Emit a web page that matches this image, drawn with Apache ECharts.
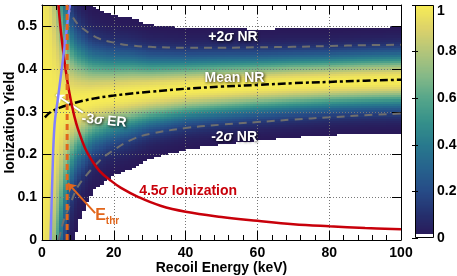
<!DOCTYPE html>
<html><head><meta charset="utf-8">
<script src="https://cdn.jsdelivr.net/npm/echarts@6/dist/echarts.min.js"></script>
<style>html,body{margin:0;padding:0;background:#fff}#c{width:457px;height:276px}</style>
</head><body><div id="c"></div>
<script>
// ---------- data ----------
const xTicks = [0, 20, 40, 60, 80, 100];
const yTicks = [0, 0.1, 0.2, 0.3, 0.4, 0.5];
const cbTicks = [0, 0.2, 0.4, 0.6, 0.8, 1];

const meanE  = [0.8, 2, 3, 5, 8, 10, 15, 20, 25, 30, 40, 50, 60, 70, 80, 90, 100];
const meanNR = [0.287, 0.297, 0.302, 0.31, 0.318, 0.323, 0.332, 0.338, 0.343, 0.347, 0.354, 0.359, 0.363, 0.367, 0.370, 0.373, 0.375];

const plus2E  = [6.8, 8, 10, 13, 16, 20, 25, 30, 40, 50, 60, 70, 80, 90, 100];
const plus2NR = [0.55, 0.53, 0.505, 0.485, 0.471, 0.462, 0.455, 0.452, 0.450, 0.450, 0.451, 0.452, 0.454, 0.456, 0.457];

const minus2E  = [4.6, 5, 6, 7, 8, 10, 12, 16, 19, 25, 30, 40, 50, 60, 70, 80, 90, 100];
const minus2NR = [0, 0.012, 0.045, 0.066, 0.087, 0.125, 0.148, 0.185, 0.205, 0.235, 0.248, 0.262, 0.270, 0.276, 0.282, 0.287, 0.292, 0.296];

const ionE   = [4.6, 5, 6, 7, 8, 9, 10, 12, 14, 16, 19, 22, 27, 33, 40, 50, 60, 70, 80, 90, 100];
const ionCut = [0.55, 0.51, 0.435, 0.375, 0.328, 0.29, 0.26, 0.215, 0.185, 0.162, 0.14, 0.122, 0.1, 0.08, 0.066, 0.054, 0.045, 0.037, 0.032, 0.028, 0.025];

const erE     = [2.4, 2.9, 3.5, 4.5, 5.8, 7.2, 7.8];
const erYield = [0, 0.15, 0.27, 0.335, 0.42, 0.515, 0.55];

const eThr = [7.0];

const sigE  = [0.5, 1, 2, 3, 4, 5, 6, 7, 8, 9, 10, 12, 14, 16, 19, 25, 30, 40, 50, 60, 70, 80, 90, 100];
const sigNR = [1.2, 1.0, 0.7, 0.45, 0.32, 0.24, 0.18, 0.15, 0.12, 0.105, 0.095, 0.082, 0.072, 0.068, 0.063, 0.058, 0.052, 0.047, 0.045, 0.043, 0.042, 0.041, 0.041, 0.041];

// ---------- helpers ----------
function interp(xs, ys, x) {
  if (x <= xs[0]) return ys[0];
  for (let k = 1; k < xs.length; k++) {
    if (x <= xs[k]) { const t = (x - xs[k-1]) / (xs[k] - xs[k-1]); return ys[k-1] + t * (ys[k] - ys[k-1]); }
  }
  return ys[ys.length - 1];
}
const zip = (a, b) => a.map((v, i) => [v, b[i]]);

const cells = [];
for (let i = 0; i < 100; i++) {
  const e = i + 0.5, m = interp(meanE, meanNR, e), s = interp(sigE, sigNR, e);
  for (let j = 0; j < 110; j++) {
    const y = (j + 0.5) * 0.005, z = (y - m) / s;
    if (Math.abs(z) > 3) continue;
    cells.push([i, i + 1, j * 0.005, (j + 1) * 0.005, Math.exp(-0.5 * z * z)]);
  }
}
const cbCells = [];
for (let k = 4; k < 200; k++) cbCells.push([0, 1, k * 0.005, (k + 1) * 0.005, (k + 0.5) * 0.005]);

const cmap = ['#2a1656','#252f6d','#264a86','#26628d','#28798d','#35908a','#55a68a','#86b987','#b2c57a','#dcd26a','#f7ec55'];

function cellItem(params, api) {
  const p0 = api.coord([api.value(0), api.value(3)]);
  const p1 = api.coord([api.value(1), api.value(2)]);
  return { type: 'rect', shape: { x: Math.floor(p0[0]), y: Math.floor(p0[1]), width: Math.ceil(p1[0]) - Math.floor(p0[0]), height: Math.ceil(p1[1]) - Math.floor(p0[1]) }, style: { fill: api.visual('color') } };
}

const FONT = 'Liberation Sans, Arial, Helvetica, sans-serif';
const lbl = { color: '#000', fontWeight: 'bold', fontSize: 14, fontFamily: FONT };
const sm = { smooth: 0.4 };

const chart = echarts.init(document.getElementById('c'), null, { renderer: 'canvas' });
const option = {
  animation: false,
  backgroundColor: '#fff',
  grid: [
    { left: 42, top: 5, width: 359, height: 235, outerBoundsMode: 'none', containLabel: false },
    { left: 415, top: 5, width: 19, height: 233, outerBoundsMode: 'none', containLabel: false }
  ],
  visualMap: { show: false, type: 'continuous', min: 0, max: 1, dimension: 4, seriesIndex: [0, 7], inRange: { color: cmap } },
  xAxis: [
    { gridIndex: 0, type: 'value', min: xTicks[0], max: xTicks[xTicks.length-1], interval: 20, position: 'bottom', z: 3,
      name: 'Recoil Energy (keV)', nameLocation: 'middle', nameGap: 21, nameMoveOverlap: false, nameTextStyle: { ...lbl, fontSize: 14 },
      axisLine: { show: true, lineStyle: { color: '#000', width: 1 } },
      axisTick: { show: true, inside: true, length: 9, lineStyle: { color: '#000' } },
      minorTick: { show: true, splitNumber: 5, length: 5, lineStyle: { color: '#000' } },
      axisLabel: { ...lbl, margin: 6 },
      splitLine: { show: true, lineStyle: { color: '#777', type: [1, 2], width: 1 } } },
    { gridIndex: 0, type: 'value', min: 0, max: 100, interval: 20, position: 'top', z: 3,
      axisLine: { show: true, onZero: false, lineStyle: { color: '#000', width: 1 } },
      axisTick: { show: true, inside: true, length: 9, lineStyle: { color: '#000' } },
      minorTick: { show: true, splitNumber: 5, length: 5, lineStyle: { color: '#000' } },
      axisLabel: { show: false }, splitLine: { show: false } },
    { gridIndex: 1, type: 'value', min: 0, max: 1, show: false }
  ],
  yAxis: [
    { gridIndex: 0, type: 'value', min: 0, max: 0.55, interval: 0.1, position: 'left', z: 3,
      name: 'Ionization Yield', nameLocation: 'middle', nameGap: 25, nameMoveOverlap: false, nameTextStyle: { ...lbl, fontSize: 14 },
      axisLine: { show: true, onZero: false, lineStyle: { color: '#000', width: 1 } },
      axisTick: { show: true, inside: true, length: 9, lineStyle: { color: '#000' } },
      axisLabel: { ...lbl, margin: 5, showMaxLabel: false, formatter: v => (yTicks.some(t => Math.abs(t - v) < 1e-9) ? String(+v.toFixed(1)) : '') },
      splitLine: { show: true, lineStyle: { color: '#777', type: [1, 2], width: 1 } } },
    { gridIndex: 0, type: 'value', min: 0, max: 0.55, interval: 0.1, position: 'right', z: 3,
      axisLine: { show: true, onZero: false, lineStyle: { color: '#000', width: 1 } },
      axisTick: { show: true, inside: true, length: 9, lineStyle: { color: '#000' } },
      axisLabel: { show: false }, splitLine: { show: false } },
    { gridIndex: 1, type: 'value', min: 0, max: 1, interval: 0.2, position: 'right', z: 3,
      axisLine: { show: false },
      axisTick: { show: true, inside: true, length: 3, lineStyle: { color: '#000' } },
      axisLabel: { ...lbl, margin: 3, formatter: v => (cbTicks.some(t => Math.abs(t - v) < 1e-9) ? (v === 1 ? '{t|1}' : String(+v.toFixed(1))) : ''),
                   rich: { t: { ...lbl, padding: [12, 0, 0, 0] } } },
      splitLine: { show: false } },
    { gridIndex: 1, type: 'value', min: 0, max: 1, interval: 0.2, position: 'left', z: 3,
      axisLine: { show: false },
      axisTick: { show: true, inside: true, length: 3, lineStyle: { color: '#000' } },
      axisLabel: { show: false }, splitLine: { show: false } }
  ],
  series: [
    { type: 'custom', name: 'NR density', xAxisIndex: 0, yAxisIndex: 0, data: cells, encode: { x: [0, 1], y: [2, 3] }, renderItem: cellItem, clip: true, z: 1, silent: true,
      progressive: 0, progressiveThreshold: 1e9 },
    { type: 'line', name: '+2σ NR', xAxisIndex: 0, yAxisIndex: 0, data: zip(plus2E, plus2NR), ...sm, showSymbol: false, clip: true, z: 5,
      lineStyle: { color: '#6e6e6e', width: 2, type: [8, 6] } },
    { type: 'line', name: '-2σ NR', xAxisIndex: 0, yAxisIndex: 0, data: zip(minus2E, minus2NR), ...sm, showSymbol: false, clip: true, z: 5,
      lineStyle: { color: '#6e6e6e', width: 2, type: [8, 6] } },
    { type: 'line', name: 'Mean NR', xAxisIndex: 0, yAxisIndex: 0, data: zip(meanE, meanNR), ...sm, showSymbol: false, clip: true, z: 6,
      lineStyle: { color: '#000', width: 2.5, type: [8, 3, 3, 3] } },
    { type: 'line', name: '4.5σ Ionization', xAxisIndex: 0, yAxisIndex: 0, data: zip(ionE, ionCut), ...sm, showSymbol: false, clip: true, z: 7,
      lineStyle: { color: '#c8000a', width: 2.5 } },
    { type: 'line', name: '-3σ ER', xAxisIndex: 0, yAxisIndex: 0, data: zip(erE, erYield), ...sm, showSymbol: false, clip: true, z: 8,
      lineStyle: { color: '#8080ff', width: 2.5 },
      markLine: { silent: true, symbol: ['none', 'arrow'], symbolSize: 8, label: { show: false },
        lineStyle: { color: '#fff', width: 2, type: 'solid', shadowColor: 'rgba(0,0,0,0.6)', shadowBlur: 2 },
        data: [[{ coord: [11.4, 0.298] }, { coord: [3.9, 0.340] }]] } },
    { type: 'line', name: 'E_thr', xAxisIndex: 0, yAxisIndex: 0, data: [[eThr[0], 0], [eThr[0], 0.55]], showSymbol: false, clip: true, z: 9,
      lineStyle: { color: '#e2661b', width: 3, type: [6, 4] },
      markLine: { silent: true, symbol: ['none', 'arrow'], symbolSize: 8, label: { show: false },
        lineStyle: { color: '#e2661b', width: 2, type: 'solid' },
        data: [[{ coord: [14.8, 0.063] }, { coord: [7.2, 0.133] }]] } },
    { type: 'custom', name: 'colorbar', xAxisIndex: 2, yAxisIndex: 2, data: cbCells, encode: { x: [0, 1], y: [2, 3] }, renderItem: cellItem, z: 1, silent: true,
      progressive: 0, progressiveThreshold: 1e9 },
    { type: 'custom', name: 'cbframe', xAxisIndex: 2, yAxisIndex: 2, data: [[0]], silent: true, z: 4,
      renderItem: (p, api) => { const a = api.coord([0, 1]), b = api.coord([1, 0]);
        return { type: 'rect', shape: { x: a[0] + 0.5, y: a[1] + 0.5, width: b[0] - a[0] - 1, height: b[1] - a[1] - 1 }, style: { fill: 'none', stroke: '#000', lineWidth: 1 } }; } }
  ]
};
chart.setOption(option);

// ---------- text annotations (positions in data coordinates) ----------
const whiteTxt = { fill: '#fff', fontWeight: 'bold', fontSize: 14, fontFamily: FONT, textShadowColor: 'rgba(0,0,0,0.85)', textShadowBlur: 3, textShadowOffsetX: 1, textShadowOffsetY: 1 };
const notes = [
  { text: '+2{i|σ} NR', at: [53.2, 0.474], st: whiteTxt },
  { text: 'Mean NR', at: [53.6, 0.378], st: whiteTxt },
  { text: '-2{i|σ} NR', at: [53.5, 0.241], st: whiteTxt },
  { text: '-3{i|σ} ER', at: [17.3, 0.279], st: whiteTxt, rot: -0.1 },
  { text: '4.5{i|σ} Ionization', at: [40.7, 0.115], st: { fill: '#c8000a', fontWeight: 'bold', fontSize: 14, fontFamily: FONT } },
];
const gr = notes.map(n => {
  const p = chart.convertToPixel({ xAxisIndex: 0, yAxisIndex: 0 }, n.at);
  return { type: 'text', x: p[0], y: p[1], rotation: n.rot || 0, z: 20, silent: true,
    style: { ...n.st, text: n.text, align: 'center', verticalAlign: 'middle', rich: { i: { ...n.st, fontStyle: 'italic' } } } };
});
const pe = chart.convertToPixel({ xAxisIndex: 0, yAxisIndex: 0 }, [14.8, 0.058]);
gr.push({ type: 'text', x: pe[0], y: pe[1], z: 20, silent: true,
  style: { text: '{e|E}{s|thr}', align: 'left', verticalAlign: 'middle',
    rich: { e: { fill: '#e2661b', fontWeight: 'bold', fontSize: 16, fontFamily: FONT, verticalAlign: 'bottom' },
            s: { fill: '#e2661b', fontWeight: 'bold', fontSize: 10, fontFamily: FONT, verticalAlign: 'bottom', padding: [0, 0, -3, 0] } } } });
chart.setOption({ graphic: gr });
</script></body></html>
